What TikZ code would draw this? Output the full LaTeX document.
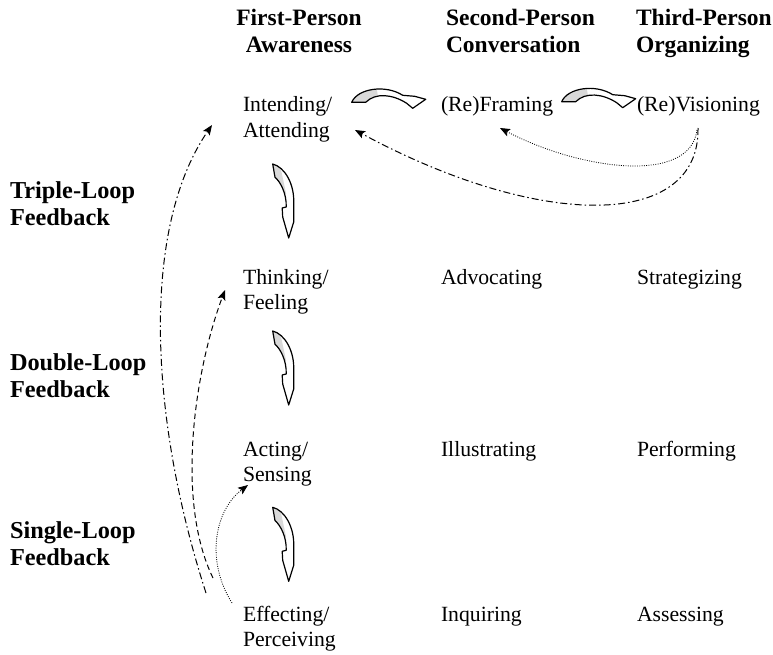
\documentclass[tikz,border=0pt]{standalone}
\usepackage{fontspec}
\setmainfont{Liberation Serif}
\usetikzlibrary{arrows.meta}
\newcommand{\twoL}[2]{\vtop{\hbox{#1}\hbox{#2}}}
\newcommand{\twoC}[2]{\vtop{\halign{\hfil##\hfil\cr #1\cr #2\cr}}}
\newcommand{\bodyfnt}{\fontsize{21.7}{25.5}\selectfont}
\newcommand{\headfnt}{\fontsize{23.5}{27}\selectfont\bfseries}
\newcommand{\loopfnt}{\fontsize{24.3}{27}\selectfont\bfseries}
\definecolor{curlgray}{RGB}{217,217,217}
\tikzset{
  bodytxt/.style={font=\bodyfnt, inner sep=0pt, outer sep=0pt, anchor=base west},
  headtxt/.style={font=\headfnt, inner sep=0pt, outer sep=0pt, anchor=base west},
  looptxt/.style={font=\loopfnt, inner sep=0pt, outer sep=0pt, anchor=base west},
  conn/.style={line width=1pt, -{Stealth[length=10pt,width=8pt,inset=2pt]}},
  dashdot/.style={conn, dash pattern=on 7pt off 3pt on 1.5pt off 3pt},
  dashline/.style={conn, dash pattern=on 5.5pt off 3.5pt},
  dotline/.style={conn, line width=0.8pt, dash pattern=on 0.9pt off 1.4pt},
  vcurl/.pic={
    \path[fill=white] (0,0) .. controls (12,3) and (22,20) .. (21,40) -- (21,58) -- (16,74) -- (10,53) -- (9.5,44) -- (13.5,43) .. controls (14,30) and (8,18) .. (2.3,13.3) -- cycle;
    \begin{scope}
      \clip (0,0) .. controls (12,3) and (22,20) .. (21,40) -- (21,58) -- (16,74) -- (10,53) -- (9.5,44) -- (13.5,43) .. controls (14,30) and (8,18) .. (2.3,13.3) -- cycle;
      \fill[curlgray] (-5,-5) -- (6,-5) -- (13.5,30) -- (-5,30) -- cycle;
    \end{scope}
    \draw[line width=1.2pt, line join=round] (0,0) .. controls (12,3) and (22,20) .. (21,40) -- (21,58) -- (16,74) -- (10,53) -- (9.5,44) -- (13.5,43) .. controls (14,30) and (8,18) .. (2.3,13.3) -- cycle;
  },
  hcurl/.pic={
    \path[fill=white] (0,0) .. controls (6,-14) and (34,-18) .. (51,-7) -- (63,-6) -- (74,-3) -- (61,6) -- (55,1) .. controls (41,-8) and (24,-10) .. (14,0) -- cycle;
    \begin{scope}
      \clip (0,0) .. controls (6,-14) and (34,-18) .. (51,-7) -- (63,-6) -- (74,-3) -- (61,6) -- (55,1) .. controls (41,-8) and (24,-10) .. (14,0) -- cycle;
      \fill[curlgray] (-5,5) -- (-5,-20) -- (24,-20) -- (28,5) -- cycle;
    \end{scope}
    \draw[line width=1.2pt, line join=round] (0,0) .. controls (6,-14) and (34,-18) .. (51,-7) -- (63,-6) -- (74,-3) -- (61,6) -- (55,1) .. controls (41,-8) and (24,-10) .. (14,0) -- cycle;
  }
}
\begin{document}
\begin{tikzpicture}[x=1pt, y=-1pt]
\useasboundingbox[fill=white] (0,0) rectangle (773,655);

% column headers
\node[headtxt, anchor=base] (h1) at (299,26) {\twoC{First-Person}{Awareness}};
\node[headtxt] (h2) at (446,26) {\twoL{Second-Person}{Conversation}};
\node[headtxt] (h3) at (636,26) {\twoL{Third-Person}{Organizing}};

% loop labels
\node[looptxt] (l3) at (10,198) {\twoL{Triple-Loop}{Feedback}};
\node[looptxt] (l2) at (10,370) {\twoL{Double-Loop}{Feedback}};
\node[looptxt] (l1) at (10,538) {\twoL{Single-Loop}{Feedback}};

% body
\node[bodytxt] (a1) at (243,112) {\twoL{Intending/}{Attending}};
\node[bodytxt] (b1) at (441,112) {(Re)Framing};
\node[bodytxt] (c1) at (637,112) {(Re)Visioning};
\node[bodytxt] (a2) at (243,284) {\twoL{Thinking/}{Feeling}};
\node[bodytxt] (b2) at (441,284) {Advocating};
\node[bodytxt] (c2) at (637,284) {Strategizing};
\node[bodytxt] (a3) at (243,456) {\twoL{Acting/}{Sensing}};
\node[bodytxt] (b3) at (441,456) {Illustrating};
\node[bodytxt] (c3) at (637,456) {Performing};
\node[bodytxt] (a4) at (243,621) {\twoL{Effecting/}{Perceiving}};
\node[bodytxt] (b4) at (441,621) {Inquiring};
\node[bodytxt] (c4) at (637,621) {Assessing};

% curled block arrows
\pic (v1) at (272.7,164) {vcurl};
\pic (v2) at (272.7,331) {vcurl};
\pic (v3) at (272.7,507.3) {vcurl};
\pic (hA) at (351.7,102.3) {hcurl};
\pic (hB) at (561.7,101.7) {hcurl};

% connector end points
\coordinate (s1) at (206,593);
\coordinate (t1) at (212,125);
\coordinate (s2) at (213,578);
\coordinate (t2) at (225,290);
\coordinate (s3) at (232,603);
\coordinate (t3) at (248,485);
\coordinate (s4) at (697,130);
\coordinate (t4) at (500,128);
\coordinate (s5) at (698,128);
\coordinate (t5) at (355,130);

\draw[dashdot] (s1) .. controls (150,420) and (140,230) .. (t1);
\draw[dashline] (s2) .. controls (175,500) and (195,370) .. (t2);
\draw[dotline] (s3) .. controls (205,560) and (215,510) .. (t3);
\draw[dotline] (s4) .. controls (690,185) and (580,170) .. (t4);
\draw[dashdot] (s5) .. controls (700,230) and (540,230) .. (t5);
\end{tikzpicture}
\end{document}
